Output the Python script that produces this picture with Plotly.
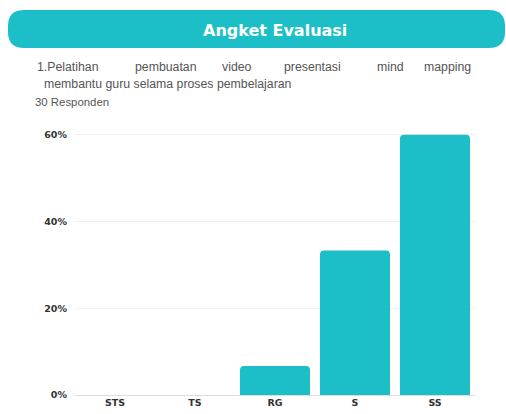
import plotly.graph_objects as go

# data
categories = ["STS", "TS", "RG", "S", "SS"]
percentages = [0.0, 0.0, 0.0667, 0.3333, 0.60]
y_ticks = [0, 0.2, 0.4, 0.6]
y_tick_labels = ["0%", "20%", "40%", "60%"]

title_text = "Angket Evaluasi"
question_line1 = ["1.Pelatihan", "pembuatan", "video", "presentasi", "mind", "mapping"]
question_line2 = "membantu guru selama proses pembelajaran"
respondents = "30 Responden"

W, H = 506, 414
TEAL = "#1CBFC7"
TEXT_GREY = "#555555"
BODY_FONT = "Liberation Sans, Arial"
TICK_FONT = dict(family="DejaVu Sans", size=9.5, color="#333333", weight=700)

ML, MR, MT, MB = 75, 31, 124, 19


def px_x(x):
    return (x - ML) / (W - ML - MR)


def px_y(y):
    return 1 - (y - MT) / (H - MT - MB)


fig = go.Figure()
fig.add_trace(go.Bar(
    x=categories,
    y=percentages,
    marker=dict(color=TEAL, line=dict(width=0)),
    hovertemplate="%{x}: %{y:.0%}<extra></extra>",
))

# rounded header bar
x0, x1, y0, y1, r = 8, 505, 10, 48, 16
path = (
    f"M {px_x(x0 + r)} {px_y(y0)} L {px_x(x1 - r)} {px_y(y0)} "
    f"Q {px_x(x1)} {px_y(y0)} {px_x(x1)} {px_y(y0 + r)} "
    f"L {px_x(x1)} {px_y(y1 - r)} Q {px_x(x1)} {px_y(y1)} {px_x(x1 - r)} {px_y(y1)} "
    f"L {px_x(x0 + r)} {px_y(y1)} Q {px_x(x0)} {px_y(y1)} {px_x(x0)} {px_y(y1 - r)} "
    f"L {px_x(x0)} {px_y(y0 + r)} Q {px_x(x0)} {px_y(y0)} {px_x(x0 + r)} {px_y(y0)} Z"
)
fig.add_shape(type="path", path=path, xref="paper", yref="paper",
              fillcolor=TEAL, line=dict(width=0), layer="below")

fig.add_annotation(text=f"<b>{title_text}</b>", x=px_x(275), y=px_y(30),
                   xref="paper", yref="paper", showarrow=False,
                   xanchor="center", yanchor="middle",
                   font=dict(family="DejaVu Sans", size=16, color="white"))

# justified first line of the question
start, end, cw = 35, 473, 6.0
widths = [len(w) * cw for w in question_line1]
gap = (end - start - sum(widths)) / (len(question_line1) - 1)
pos = start
for i, (word, w) in enumerate(zip(question_line1, widths)):
    last = i == len(question_line1) - 1
    fig.add_annotation(text=word, x=px_x(end if last else pos), y=px_y(67),
                       xref="paper", yref="paper", showarrow=False,
                       xanchor="right" if last else "left", yanchor="middle",
                       font=dict(family=BODY_FONT, size=12.3, color=TEXT_GREY))
    pos += w + gap

fig.add_annotation(text=question_line2, x=px_x(42), y=px_y(84), xref="paper", yref="paper",
                   showarrow=False, xanchor="left", yanchor="middle",
                   font=dict(family=BODY_FONT, size=12.3, color=TEXT_GREY))
fig.add_annotation(text=respondents, x=px_x(33), y=px_y(102), xref="paper", yref="paper",
                   showarrow=False, xanchor="left", yanchor="middle",
                   font=dict(family=BODY_FONT, size=11.4, color=TEXT_GREY))

fig.update_layout(
    width=W, height=H,
    margin=dict(l=ML, r=MR, t=MT, b=MB),
    paper_bgcolor="white", plot_bgcolor="white",
    showlegend=False,
    bargap=0.125,
    barcornerradius=4,
    xaxis=dict(showgrid=False, showline=False, ticks="", automargin=False,
               tickfont=TICK_FONT),
    yaxis=dict(range=[0, 0.625], tickvals=y_ticks, ticktext=y_tick_labels,
               showgrid=True, gridcolor="#F0F0F0", gridwidth=1,
               zeroline=True, zerolinecolor="#DDDDDD", zerolinewidth=1,
               ticks="", ticklabelstandoff=7, automargin=False,
               tickfont=TICK_FONT),
)

fig.write_html("out.html", config={"displayModeBar": False},
               post_script="document.body.style.margin='0';")
